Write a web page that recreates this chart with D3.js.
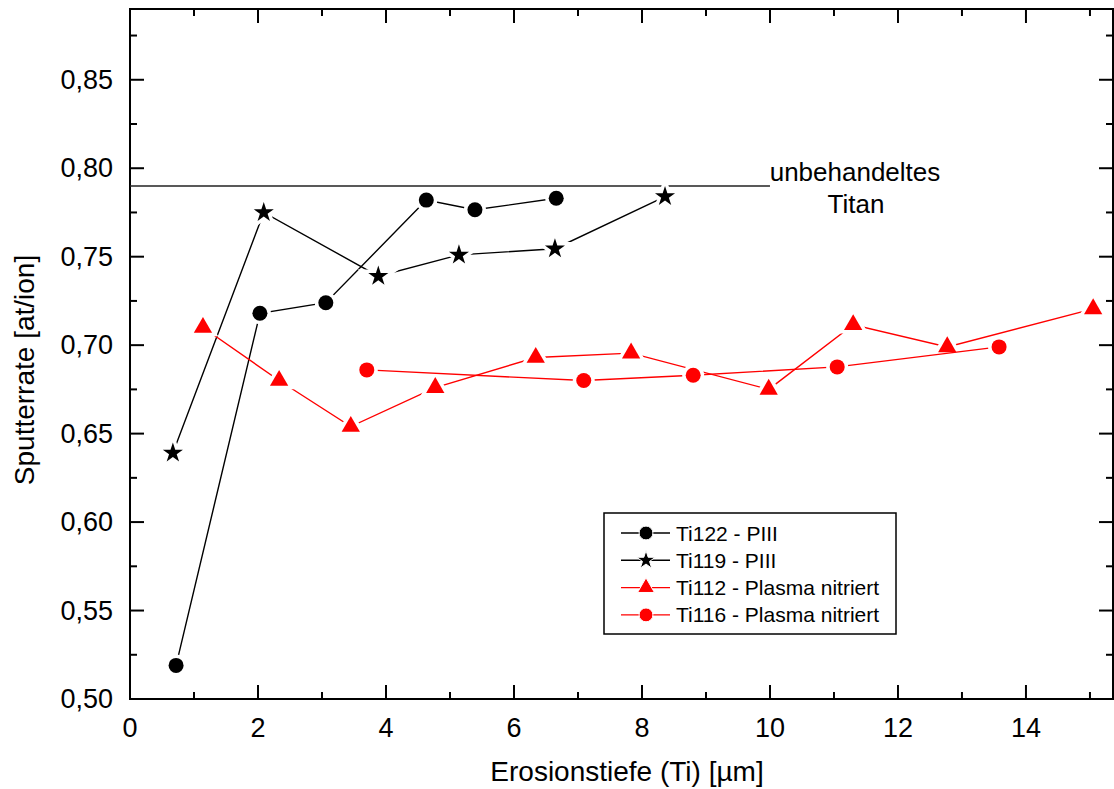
<!DOCTYPE html>
<html>
<head>
<meta charset="utf-8">
<script src="https://cdn.jsdelivr.net/npm/d3@7"></script>
<style>
  body { margin: 0; background: #fff; }
  text { font-family: "Liberation Sans", Arial, sans-serif; fill: #000; }
</style>
</head>
<body>
<div id="chart"></div>
<script>
// data
const ti122 = [[0.72, 0.519], [2.03, 0.718], [3.06, 0.724], [4.63, 0.782], [5.39, 0.7765], [6.66, 0.783]];
const ti119 = [[0.67, 0.639], [2.09, 0.775], [3.88, 0.739], [5.14, 0.751], [6.64, 0.7545], [8.36, 0.784]];
const ti112 = [[1.14, 0.710], [2.33, 0.680], [3.45, 0.654], [4.77, 0.676], [6.34, 0.693], [7.83, 0.6955],
  [9.98, 0.675], [11.30, 0.7115], [12.77, 0.699], [15.05, 0.7205]];
const ti116 = [[3.70, 0.686], [7.09, 0.680], [8.80, 0.683], [11.05, 0.6877], [13.58, 0.699]];
const refValue = 0.79, refEnd = 10;
const xTicks = [0, 2, 4, 6, 8, 10, 12, 14];
const yTicks = [0.50, 0.55, 0.60, 0.65, 0.70, 0.75, 0.80, 0.85];

const series = [
  { name: "Ti122 - PIII", data: ti122, color: "#000", symbol: d3.symbolCircle, size: 177 },
  { name: "Ti119 - PIII", data: ti119, color: "#000", symbol: d3.symbolStar, size: 125 },
  { name: "Ti112 - Plasma nitriert", data: ti112, color: "#ff0000", symbol: d3.symbolTriangle, size: 145 },
  { name: "Ti116 - Plasma nitriert", data: ti116, color: "#ff0000", symbol: d3.symbolCircle, size: 177 }
];

const width = 1114, height = 789;
const margin = { top: 9, right: 1, bottom: 90, left: 130 };

const svg = d3.select("#chart").append("svg")
  .attr("width", width).attr("height", height);

const x = d3.scaleLinear().domain([0, 15.36]).range([margin.left, width - margin.right]);
const y = d3.scaleLinear().domain([0.5, 0.89]).range([height - margin.bottom, margin.top]);

const fmt = d => d3.format(".2f")(d).replace(".", ",");
const x0 = x.range()[0], x1 = x.range()[1], y0 = y.range()[0], y1 = y.range()[1];

// minor + major ticks on all four sides, pointing inward
const xMinor = d3.range(1, 16, 2);
const yMinor = d3.range(0.525, 0.89, 0.05);
const ticks = svg.append("g").attr("stroke", "#000").attr("stroke-width", 2);
function tickSet(vals, len) {
  for (let v of vals.x) {
    ticks.append("line").attr("x1", x(v)).attr("x2", x(v)).attr("y1", y0).attr("y2", y0 - len);
    ticks.append("line").attr("x1", x(v)).attr("x2", x(v)).attr("y1", y1).attr("y2", y1 + len);
  }
  for (let v of vals.y) {
    ticks.append("line").attr("y1", y(v)).attr("y2", y(v)).attr("x1", x0).attr("x2", x0 + len);
    ticks.append("line").attr("y1", y(v)).attr("y2", y(v)).attr("x1", x1).attr("x2", x1 - len);
  }
}
tickSet({ x: xTicks, y: yTicks }, 14);
tickSet({ x: xMinor, y: yMinor }, 7);

// frame
svg.append("rect")
  .attr("x", x0).attr("y", y1).attr("width", x1 - x0).attr("height", y0 - y1)
  .attr("fill", "none").attr("stroke", "#000").attr("stroke-width", 2);

// tick labels
svg.append("g").selectAll("text").data(xTicks).join("text")
  .attr("x", d => x(d)).attr("y", y0 + 38)
  .attr("text-anchor", "middle").attr("font-size", 27)
  .text(d => d);
svg.append("g").selectAll("text").data(yTicks).join("text")
  .attr("x", x0 - 17).attr("y", d => y(d))
  .attr("text-anchor", "end").attr("dominant-baseline", "central").attr("font-size", 27)
  .text(fmt);

// axis titles
svg.append("text")
  .attr("x", 627).attr("y", 781)
  .attr("text-anchor", "middle").attr("font-size", 28)
  .text("Erosionstiefe (Ti) [µm]");
svg.append("text")
  .attr("transform", `translate(34,370) rotate(-90)`)
  .attr("text-anchor", "middle").attr("font-size", 28)
  .text("Sputterrate [at/ion]");

// reference line for untreated titanium
svg.append("line")
  .attr("x1", x(0)).attr("x2", x(refEnd))
  .attr("y1", y(refValue)).attr("y2", y(refValue))
  .attr("stroke", "#222").attr("stroke-width", 1.5);
svg.append("text").attr("x", 855).attr("y", 181)
  .attr("text-anchor", "middle").attr("font-size", 26).text("unbehandeltes");
svg.append("text").attr("x", 856).attr("y", 213)
  .attr("text-anchor", "middle").attr("font-size", 26).text("Titan");

const line = d3.line().x(d => x(d[0])).y(d => y(d[1]));

for (let s of series) {
  let g = svg.append("g");
  g.append("path").datum(s.data)
    .attr("d", line).attr("fill", "none")
    .attr("stroke", s.color).attr("stroke-width", 1.4);
  // white halo so lines stop short of the markers
  g.selectAll(".halo").data(s.data).join("path")
    .attr("transform", d => `translate(${x(d[0])},${y(d[1])})`)
    .attr("d", d3.symbol(s.symbol, s.size))
    .attr("fill", "#fff").attr("stroke", "#fff").attr("stroke-width", 7);
  g.selectAll(".mark").data(s.data).join("path")
    .attr("transform", d => `translate(${x(d[0])},${y(d[1])})`)
    .attr("d", d3.symbol(s.symbol, s.size))
    .attr("fill", s.color);
}

// legend
const lg = svg.append("g");
lg.append("rect").attr("x", 604).attr("y", 513).attr("width", 292).attr("height", 121)
  .attr("fill", "#fff").attr("stroke", "#000").attr("stroke-width", 1.5);
series.forEach((s, i) => {
  let cy = 533 + i * 27.3;
  lg.append("line").attr("x1", 621).attr("x2", 670).attr("y1", cy).attr("y2", cy)
    .attr("stroke", s.color).attr("stroke-width", 1.4);
  lg.append("path").attr("transform", `translate(646,${cy})`)
    .attr("d", d3.symbol(s.symbol, s.size * 0.85))
    .attr("fill", s.color).attr("stroke", "#fff").attr("stroke-width", 1);
  lg.append("text").attr("x", 676).attr("y", cy)
    .attr("dominant-baseline", "central").attr("font-size", 21)
    .text(s.name);
});
</script>
</body>
</html>
